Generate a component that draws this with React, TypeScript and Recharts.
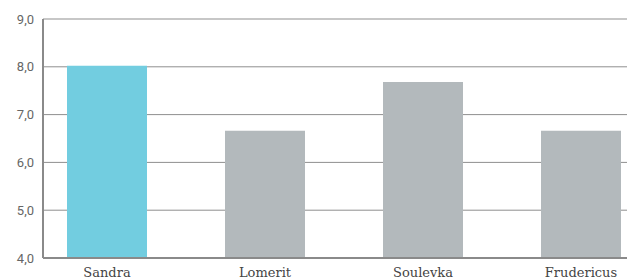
import React from "react";
import { BarChart, Bar, XAxis, YAxis, CartesianGrid, Cell } from "recharts";

const names = ["Sandra", "Lomerit", "Souleyka", "Frudericus"];
const scores = [8.02, 6.66, 7.68, 6.66];
const colors = ["#72CDE0", "#B3B9BC", "#B3B9BC", "#B3B9BC"];
const yTicks = [4, 5, 6, 7, 8, 9];

const data = names.map((name, i) => ({ name, score: scores[i] }));

const fmt = (v: number) => v.toFixed(1).replace(".", ",");

const App: React.FC = () => {
  return (
    <div style={{ width: 627, height: 269, overflow: "visible" }}>
      <BarChart
        width={627}
        height={280}
        data={data}
        margin={{ top: 11, right: 0, bottom: 0, left: 0 }}
        barSize={80}
      >
        <CartesianGrid vertical={false} stroke="#8f8f8f" strokeWidth={1} />
        <XAxis
          dataKey="name"
          height={30}
          padding={{ left: -15, right: -25 }}
          axisLine={{ stroke: "#8a8a8a", strokeWidth: 2 }}
          tickLine={false}
          tickSize={0}
          tickMargin={10}
          tick={{ fill: "#444", fontSize: 13, fontFamily: "DejaVu Serif" }}
        />
        <YAxis
          width={35}
          domain={[4, 9]}
          ticks={yTicks}
          allowDataOverflow
          tickFormatter={fmt}
          axisLine={{ stroke: "#8a8a8a", strokeWidth: 2 }}
          tickLine={false}
          tickSize={0}
          tickMargin={9}
          tick={{ fill: "#666", fontSize: 13, fontFamily: "Roboto" }}
        />
        <Bar dataKey="score" isAnimationActive={false}>
          {data.map((d, i) => (
            <Cell key={d.name} fill={colors[i]} />
          ))}
        </Bar>
      </BarChart>
    </div>
  );
};

export default App;
